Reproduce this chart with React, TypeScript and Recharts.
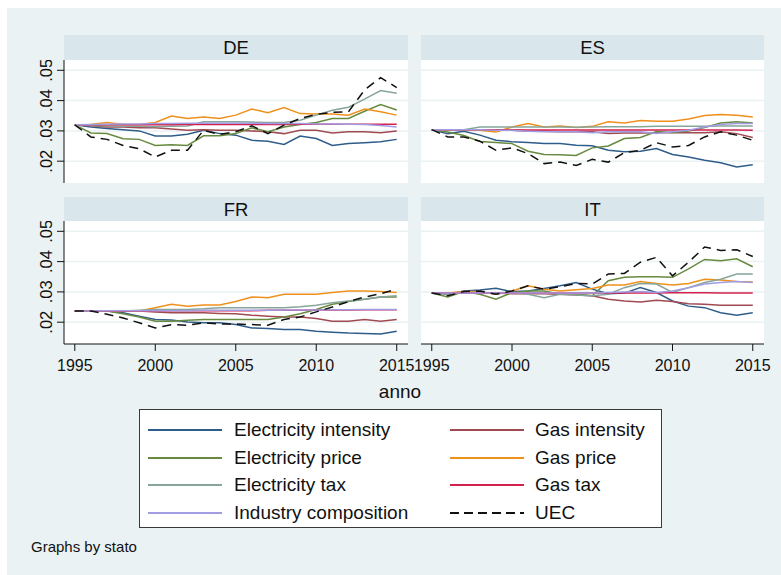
import React from 'react';
import { CartesianGrid, Line, LineChart, XAxis, YAxis } from 'recharts';

// years on the x axis
const years = [1995, 1996, 1997, 1998, 1999, 2000, 2001, 2002, 2003, 2004, 2005, 2006, 2007, 2008, 2009, 2010, 2011, 2012, 2013, 2014, 2015];
const xTicks = [1995, 2000, 2005, 2010, 2015];
const yTicks = [0.02, 0.03, 0.04, 0.05];

// DE
const deElInt = [.0320, .0313, .0308, .0304, .0300, .0283, .0283, .0289, .0302, .0291, .0286, .0269, .0266, .0255, .0283, .0275, .0252, .0258, .0261, .0264, .0272];
const deGasInt = [.0320, .0317, .0313, .0313, .0310, .0310, .0306, .0302, .0304, .0302, .0302, .0300, .0297, .0291, .0302, .0302, .0293, .0297, .0297, .0294, .0300];
const deElPrice = [.0320, .0293, .0291, .0274, .0272, .0252, .0254, .0252, .0284, .0284, .0291, .0310, .0297, .0313, .0321, .0328, .0341, .0341, .0365, .0387, .0369];
const deGasPrice = [.0320, .0321, .0328, .0321, .0321, .0328, .0349, .0341, .0346, .0341, .0352, .0372, .0360, .0377, .0357, .0356, .0356, .0352, .0372, .0363, .0352];
const deElTax = [.0320, .0318, .0316, .0315, .0315, .0314, .0315, .0316, .0330, .0330, .0330, .0329, .0328, .0328, .0335, .0352, .0368, .0378, .0405, .0433, .0424];
const deGasTax = [.0320, .0320, .0320, .0320, .0320, .0320, .0320, .0321, .0321, .0321, .0321, .0321, .0321, .0321, .0322, .0322, .0322, .0322, .0322, .0322, .0322];
const deInd = [.0320, .0321, .0322, .0323, .0323, .0324, .0324, .0325, .0325, .0325, .0325, .0325, .0324, .0324, .0324, .0323, .0323, .0322, .0321, .0318, .0313];
const deUec = [.0320, .0280, .0272, .0252, .0241, .0214, .0236, .0236, .0302, .0288, .0297, .0317, .0291, .0319, .0341, .0355, .0361, .0363, .0435, .0476, .0443];

// ES
const esElInt = [.0304, .0291, .0299, .0286, .0269, .0264, .0262, .0258, .0258, .0253, .0251, .0236, .0231, .0233, .0242, .0222, .0214, .0203, .0195, .0181, .0188];
const esGasInt = [.0304, .0304, .0304, .0302, .0302, .0302, .0299, .0299, .0297, .0297, .0297, .0291, .0293, .0293, .0294, .0294, .0294, .0294, .0297, .0291, .0278];
const esElPrice = [.0304, .0296, .0285, .0265, .0262, .0258, .0233, .0222, .0221, .0219, .0244, .0250, .0275, .0278, .0298, .0295, .0300, .0311, .0326, .0330, .0326];
const esGasPrice = [.0304, .0304, .0304, .0302, .0296, .0313, .0324, .0313, .0316, .0311, .0315, .0330, .0326, .0334, .0332, .0332, .0339, .0351, .0354, .0352, .0346];
const esElTax = [.0304, .0304, .0304, .0313, .0313, .0313, .0313, .0313, .0313, .0312, .0313, .0314, .0314, .0314, .0315, .0315, .0315, .0315, .0316, .0316, .0316];
const esGasTax = [.0304, .0304, .0304, .0304, .0304, .0304, .0303, .0303, .0303, .0303, .0303, .0303, .0303, .0303, .0303, .0303, .0303, .0303, .0303, .0303, .0302];
const esInd = [.0304, .0304, .0304, .0304, .0302, .0302, .0299, .0297, .0297, .0297, .0294, .0297, .0297, .0297, .0291, .0297, .0302, .0313, .0321, .0324, .0324];
const esUec = [.0304, .0280, .0280, .0266, .0236, .0244, .0225, .0192, .0197, .0186, .0206, .0197, .0228, .0236, .0261, .0247, .0252, .0280, .0297, .0286, .0269];

// FR
const frElInt = [.0237, .0237, .0237, .0231, .0220, .0209, .0207, .0201, .0198, .0198, .0192, .0181, .0179, .0176, .0176, .0170, .0167, .0164, .0163, .0161, .0170];
const frGasInt = [.0237, .0237, .0237, .0237, .0237, .0234, .0231, .0231, .0231, .0229, .0228, .0223, .0220, .0217, .0217, .0212, .0203, .0203, .0209, .0203, .0209];
const frElPrice = [.0237, .0237, .0237, .0228, .0217, .0203, .0203, .0206, .0209, .0209, .0209, .0209, .0209, .0217, .0228, .0242, .0259, .0268, .0276, .0283, .0283];
const frGasPrice = [.0237, .0237, .0237, .0237, .0237, .0248, .0259, .0253, .0257, .0257, .0268, .0283, .0281, .0292, .0292, .0292, .0298, .0303, .0303, .0301, .0298];
const frElTax = [.0237, .0237, .0237, .0237, .0239, .0242, .0242, .0242, .0244, .0248, .0248, .0248, .0248, .0248, .0251, .0256, .0264, .0270, .0276, .0283, .0287];
const frGasTax = [.0237, .0237, .0237, .0237, .0237, .0237, .0238, .0238, .0238, .0238, .0238, .0238, .0239, .0239, .0239, .0240, .0240, .0240, .0241, .0241, .0241];
const frInd = [.0237, .0237, .0238, .0238, .0238, .0238, .0238, .0238, .0239, .0239, .0239, .0239, .0239, .0240, .0240, .0240, .0241, .0241, .0242, .0242, .0242];
const frUec = [.0237, .0237, .0226, .0214, .0198, .0181, .0192, .0190, .0198, .0194, .0194, .0192, .0190, .0209, .0217, .0234, .0250, .0268, .0283, .0294, .0309];

// IT
const itElInt = [.0296, .0292, .0303, .0306, .0312, .0301, .0303, .0311, .0320, .0331, .0309, .0294, .0296, .0314, .0298, .0270, .0253, .0248, .0231, .0223, .0231];
const itGasInt = [.0296, .0296, .0296, .0296, .0296, .0294, .0294, .0294, .0292, .0290, .0287, .0276, .0270, .0267, .0272, .0268, .0261, .0259, .0256, .0256, .0256];
const itElPrice = [.0296, .0283, .0301, .0292, .0276, .0298, .0303, .0303, .0292, .0292, .0287, .0337, .0348, .0350, .0350, .0348, .0376, .0407, .0403, .0409, .0383];
const itGasPrice = [.0296, .0296, .0301, .0301, .0292, .0303, .0320, .0309, .0303, .0307, .0311, .0323, .0323, .0334, .0328, .0323, .0328, .0342, .0339, .0334, .0333];
const itElTax = [.0296, .0292, .0298, .0298, .0294, .0298, .0292, .0281, .0292, .0290, .0287, .0292, .0314, .0328, .0326, .0298, .0314, .0331, .0342, .0359, .0359];
const itGasTax = [.0296, .0296, .0296, .0296, .0296, .0296, .0296, .0296, .0296, .0296, .0296, .0296, .0296, .0296, .0296, .0297, .0297, .0297, .0296, .0296, .0296];
const itInd = [.0296, .0296, .0296, .0296, .0296, .0296, .0296, .0296, .0296, .0296, .0296, .0298, .0300, .0301, .0298, .0303, .0314, .0326, .0331, .0334, .0331];
const itUec = [.0296, .0287, .0301, .0303, .0292, .0303, .0320, .0309, .0317, .0328, .0326, .0359, .0361, .0398, .0414, .0353, .0398, .0448, .0437, .0439, .0417];

// series, in stata plot order
const series = [
  { key: 'elInt', name: 'Electricity intensity', color: '#2f5d8a', dash: undefined },
  { key: 'gasInt', name: 'Gas intensity', color: '#a04a52', dash: undefined },
  { key: 'elPrice', name: 'Electricity price', color: '#678a3f', dash: undefined },
  { key: 'gasPrice', name: 'Gas price', color: '#f0901c', dash: undefined },
  { key: 'elTax', name: 'Electricity tax', color: '#87a59b', dash: undefined },
  { key: 'gasTax', name: 'Gas tax', color: '#d3204f', dash: undefined },
  { key: 'ind', name: 'Industry composition', color: '#a29ce3', dash: undefined },
  { key: 'uec', name: 'UEC', color: '#111111', dash: '9 6' },
];

const buildRows = (cols: number[][]) =>
  years.map((anno, i) => {
    const row: any = { anno };
    series.forEach((s, j) => {
      row[s.key] = cols[j][i];
    });
    return row;
  });

const panels = [
  { name: 'DE', rows: buildRows([deElInt, deGasInt, deElPrice, deGasPrice, deElTax, deGasTax, deInd, deUec]), left: 0, top: 60, col: 0, row: 0 },
  { name: 'ES', rows: buildRows([esElInt, esGasInt, esElPrice, esGasPrice, esElTax, esGasTax, esInd, esUec]), left: 421, top: 60, col: 1, row: 0 },
  { name: 'FR', rows: buildRows([frElInt, frGasInt, frElPrice, frGasPrice, frElTax, frGasTax, frInd, frUec]), left: 0, top: 221, col: 0, row: 1 },
  { name: 'IT', rows: buildRows([itElInt, itGasInt, itElPrice, itGasPrice, itElTax, itGasTax, itInd, itUec]), left: 421, top: 221, col: 1, row: 1 },
];

const FONT = 'Arial, "Liberation Sans", Helvetica, sans-serif';
const BG = '#eaf2f3';
const STRIP = '#d9e6eb';
const PLOT_H = 123;

const YTick = (props: any) => {
  const { x, y, payload } = props;
  const label = Number(payload.value).toFixed(2).replace(/^0/, '');
  return (
    <text
      x={x}
      y={y}
      transform={`rotate(-90, ${x}, ${y})`}
      textAnchor="middle"
      fontSize={16.5}
      fontFamily={FONT}
      fill="#111"
    >
      {label}
    </text>
  );
};

const Panel = ({ p }: { p: any }) => {
  const isLeft = p.col === 0;
  const isBottom = p.row === 1;
  const yAxisW = isLeft ? 64 : 0;
  const plotW = isLeft ? 344 : 343;
  const rightPad = isBottom ? 18 : 0;
  // room for the first x tick label of the right-hand panel
  const leftPad = isBottom && !isLeft ? 18 : 0;
  const width = leftPad + yAxisW + plotW + rightPad;
  const xAxisH = isBottom ? 40 : 0;
  const height = PLOT_H + xAxisH;
  const stripLeft = isLeft ? 64 : 421;
  const stripTop = p.row === 0 ? 35 : 197;

  return (
    <>
      <div
        style={{
          position: 'absolute',
          left: stripLeft,
          top: stripTop,
          width: plotW,
          height: p.row === 0 ? 24.5 : 24,
          background: STRIP,
          fontFamily: FONT,
          fontSize: 18.5,
          color: '#111',
          textAlign: 'center',
          lineHeight: '25px',
        }}
      >
        {p.name}
      </div>
      <div style={{ position: 'absolute', left: p.left - leftPad, top: p.top }}>
        <LineChart
          width={width}
          height={height}
          data={p.rows}
          margin={{ top: 0, right: rightPad, bottom: 0, left: leftPad }}
        >
          <CartesianGrid
            horizontal
            vertical={false}
            horizontalValues={yTicks}
            stroke={BG}
            strokeWidth={1.5}
            fill="#ffffff"
            fillOpacity={1}
          />
          <XAxis
            dataKey="anno"
            type="number"
            domain={[1994.33, 2015.7]}
            ticks={xTicks}
            interval={0}
            allowDataOverflow
            hide={!isBottom}
            height={xAxisH}
            axisLine={{ stroke: '#111', strokeWidth: 1 }}
            tickLine={{ stroke: '#111', strokeWidth: 1 }}
            tickSize={7}
            tickMargin={9}
            tick={{ fill: '#111', fontSize: 16, fontFamily: FONT }}
          />
          <YAxis
            type="number"
            domain={[0.0128, 0.0534]}
            ticks={yTicks}
            interval={0}
            allowDataOverflow
            hide={!isLeft}
            width={yAxisW}
            axisLine={{ stroke: '#111', strokeWidth: 1 }}
            tickLine={{ stroke: '#111', strokeWidth: 1 }}
            tickSize={7}
            tickMargin={5}
            tick={<YTick />}
          />
          {series.map((s) => (
            <Line
              key={s.key}
              type="linear"
              dataKey={s.key}
              name={s.name}
              stroke={s.color}
              strokeWidth={1.5}
              strokeDasharray={s.dash}
              dot={false}
              activeDot={false}
              isAnimationActive={false}
            />
          ))}
        </LineChart>
      </div>
    </>
  );
};

const Legend = () => (
  <div
    style={{
      position: 'absolute',
      left: 139,
      top: 409,
      width: 521,
      height: 117,
      background: '#fff',
      border: '1px solid #3a3a3a',
      fontFamily: FONT,
    }}
  >
    {series.map((s, i) => {
      const row = Math.floor(i / 2);
      const col = i % 2;
      const cy = 20 + row * 27.6;
      const lineX = col === 0 ? 8 : 310;
      const textX = col === 0 ? 94 : 395;
      return (
        <React.Fragment key={s.key}>
          <svg
            width={75}
            height={6}
            style={{ position: 'absolute', left: lineX, top: cy - 3 }}
          >
            <line x1={0} y1={3} x2={74} y2={3} stroke={s.color} strokeWidth={2} strokeDasharray={s.dash ? '9 5' : undefined} />
          </svg>
          <div
            style={{
              position: 'absolute',
              left: textX,
              top: cy - 12,
              height: 24,
              lineHeight: '24px',
              fontSize: 19,
              color: '#111',
              whiteSpace: 'nowrap',
            }}
          >
            {s.name}
          </div>
        </React.Fragment>
      );
    })}
  </div>
);

export default function App() {
  return (
    <div style={{ position: 'absolute', left: 0, top: 0, width: 781, height: 575, background: '#fff', overflow: 'hidden' }}>
      <div style={{ position: 'absolute', left: 7, top: 8, width: 774, height: 567, background: BG }} />
      {panels.map((p) => (
        <Panel key={p.name} p={p} />
      ))}
      <div
        style={{
          position: 'absolute',
          left: 300,
          width: 200,
          top: 380,
          textAlign: 'center',
          fontFamily: FONT,
          fontSize: 19,
          lineHeight: '24px',
          color: '#111',
        }}
      >
        anno
      </div>
      <Legend />
      <div
        style={{
          position: 'absolute',
          left: 31,
          top: 538,
          fontFamily: FONT,
          fontSize: 15,
          lineHeight: '18px',
          color: '#111',
        }}
      >
        Graphs by stato
      </div>
    </div>
  );
}
